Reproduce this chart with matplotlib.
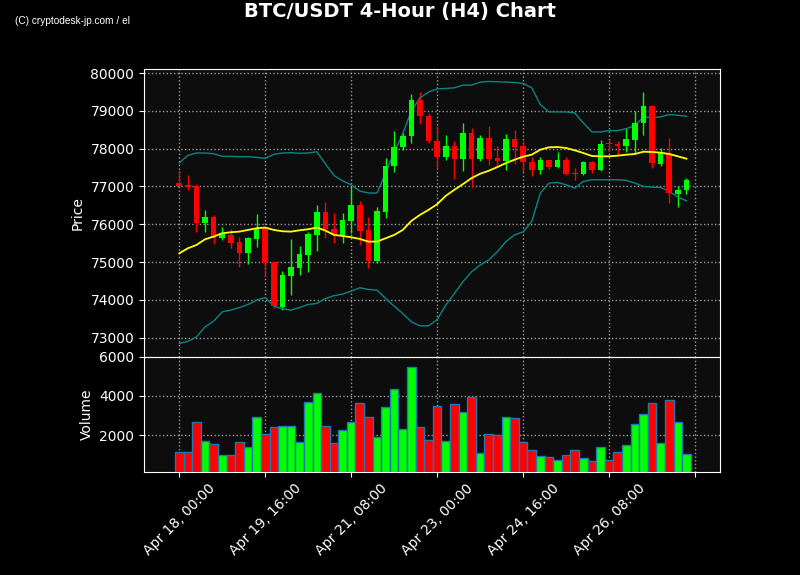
import numpy as np
import pandas as pd
import matplotlib
matplotlib.use('Agg')
import matplotlib.pyplot as plt

# 4h candles from Apr 18 00:00
dates = pd.date_range('2025-04-18 00:00', periods=60, freq='4h')

opens = [77090, 77045, 77019, 76045, 76196, 75647, 75718, 75532, 75249, 75612,
         75895, 75010, 73815, 74638, 74851, 75187, 75727, 76329, 75877, 75718,
         76090, 76497, 75850, 75027, 76337, 77532, 78036, 78329, 79302, 78877,
         78213, 77771, 78081, 77718, 78426, 77736, 78293, 77762, 77665, 78267,
         78081, 77656, 77443, 77709, 77505, 77709, 77355, 77337, 77656, 77426,
         78134, 78134, 78063, 78240, 78674, 79143, 77603, 77868, 76806, 76895]
closes = [77020, 76992, 76027, 76205, 75629, 75762, 75514, 75249, 75647, 75895,
          74983, 73833, 74656, 74868, 75213, 75744, 76329, 75868, 75718, 76116,
          76497, 75833, 75027, 76355, 77550, 78054, 78346, 79302, 78860, 78196,
          77771, 78081, 77718, 78426, 77736, 78293, 77736, 77665, 78267, 78045,
          77638, 77443, 77709, 77505, 77709, 77337, 77320, 77656, 77426, 78134,
          78116, 78063, 78258, 78683, 79143, 77621, 77886, 76824, 76912, 77178]
highs = [77444, 77311, 77063, 76381, 76240, 75921, 75868, 75674, 75674, 76275,
         75939, 75010, 74762, 75603, 75426, 75789, 76514, 76585, 76293, 76311,
         76975, 76612, 76205, 76461, 77753, 78470, 78417, 79444, 79506, 78948,
         78612, 78364, 78205, 78683, 78550, 78364, 78603, 78072, 78382, 78488,
         78196, 77771, 77771, 77709, 77904, 77771, 77488, 77683, 77683, 78240,
         78240, 78213, 78550, 78992, 79506, 79169, 78019, 78284, 77001, 77222]
lows = [77000, 76895, 75789, 75806, 75470, 75585, 75364, 74877, 74939, 75408,
        74612, 73771, 73744, 74116, 74647, 74727, 75302, 75629, 75497, 75514,
        75762, 75452, 74833, 74983, 76160, 77373, 77957, 78152, 78656, 78152,
        77470, 77691, 77196, 77417, 76983, 77683, 77558, 77514, 77444, 77594,
        77382, 77266, 77337, 77461, 77488, 77311, 77160, 77311, 77355, 77399,
        77948, 77842, 77904, 77886, 78373, 77488, 77550, 76576, 76470, 76806]
volumes = [1167, 1167, 2668, 1701, 1551, 1001, 1001, 1668, 1418, 2918,
           2067, 2418, 2501, 2501, 1668, 3718, 4168, 2468, 1617, 2268,
           2668, 3618, 2918, 1917, 3418, 4368, 2318, 5468, 2418, 1784,
           3468, 1717, 3568, 3168, 3968, 1101, 2067, 2001, 2918, 2868,
           1668, 1267, 967, 917, 767, 1017, 1267, 867, 701, 1418,
           767, 1167, 1501, 2568, 3068, 3618, 1617, 3818, 2668, 1067]
ma = [75231, 75364, 75452, 75603, 75674, 75762, 75789, 75806, 75850, 75895,
      75913, 75850, 75815, 75806, 75841, 75868, 75913, 75833, 75718, 75691,
      75656, 75612, 75541, 75541, 75629, 75718, 75850, 76090, 76249, 76381,
      76532, 76753, 76912, 77063, 77222, 77337, 77417, 77514, 77620, 77709,
      77790, 77842, 77975, 78037, 78045, 78019, 77957, 77886, 77807, 77798,
      77798, 77815, 77842, 77860, 77921, 77913, 77895, 77860, 77798, 77736]
upper = [77620, 77824, 77886, 77886, 77868, 77798, 77798, 77789, 77789, 77771,
         77744, 77851, 77886, 77895, 77880, 77886, 77920, 77600, 77290, 77150,
         77045, 76880, 76830, 76824, 77360, 77900, 78400, 79000, 79346, 79500,
         79585, 79594, 79612, 79683, 79683, 79762, 79780, 79771, 79762, 79753,
         79727, 79612, 79169, 78975, 78975, 78975, 78948, 78683, 78444, 78444,
         78479, 78479, 78532, 78612, 78842, 78824, 78842, 78904, 78886, 78860]
lower = [72842, 72904, 73018, 73284, 73434, 73682, 73727, 73797, 73877, 73992,
         74063, 73833, 73762, 73727, 73797, 73877, 73904, 74036, 74110, 74151,
         74231, 74320, 74275, 74258, 74036, 73833, 73638, 73417, 73311, 73311,
         73478, 73859, 74169, 74479, 74744, 74921, 75054, 75276, 75541, 75718,
         75800, 76072, 76824, 77090, 77107, 77045, 76957, 77134, 77178, 77178,
         77178, 77178, 77160, 77090, 77001, 76983, 76975, 76868, 76718, 76620]

x = np.arange(len(dates))
o = np.array(opens); c = np.array(closes)
up = c >= o
cols = np.where(up, '#00ff00', '#ff0000')

fig = plt.figure(figsize=(8, 5.75), dpi=100, facecolor='black')
gs = fig.add_gridspec(2, 1, height_ratios=[2.5, 1], hspace=0,
                      left=0.18, right=0.9, top=0.88, bottom=0.18)
ax = fig.add_subplot(gs[0])
axv = fig.add_subplot(gs[1], sharex=ax)

for a in (ax, axv):
    a.set_facecolor('#0d0d0d')
    for s in a.spines.values():
        s.set_color('white')
    a.tick_params(colors='white', labelsize=10)
    a.grid(True, color='#b0b0b0', linestyle=':', linewidth=1, alpha=0.85)
    a.set_axisbelow(True)

# candles
ax.vlines(x, lows, highs, colors=cols, linewidth=1, zorder=2)
body = np.maximum(np.abs(c - o), 30)
ax.bar(x, body, bottom=np.minimum(o, c), width=0.65, color=cols, zorder=3)

# bollinger
ax.plot(x, upper, color='#0a8585', linewidth=1, zorder=2)
ax.plot(x, lower, color='#0a8585', linewidth=1, zorder=2)
ax.plot(x, ma, color='#ffff00', linewidth=1.3, zorder=4)

ax.set_ylim(72500, 80110)
ax.set_yticks(range(73000, 80001, 1000))
ax.set_ylabel('Price', color='white', fontsize=10)
ax.tick_params(labelbottom=False)

# volume
axv.bar(x, volumes, width=1.0, color=cols, edgecolor='#1f77b4', linewidth=1, zorder=3)
axv.set_ylim(170, 6000)
axv.set_yticks([2000, 4000, 6000])
axv.set_ylabel('Volume', color='white', fontsize=10)

ticks = list(range(0, 61, 10))
labels = [dates[t].strftime('%b %d, %H:%M') if t < len(dates) else '' for t in ticks]
axv.set_xticks(ticks)
axv.set_xticklabels(labels, rotation=45)
axv.set_xlim(-4.1, 62.9)

fig.suptitle('BTC/USDT 4-Hour (H4) Chart', color='white', fontsize=14,
             fontweight='bold', y=0.997)
fig.text(0.019, 0.963, '(C) cryptodesk-jp.com / el', color='white', fontsize=7.3,
         family='Liberation Sans', va='center')

fig.savefig('out.png', dpi=100, facecolor='black')
